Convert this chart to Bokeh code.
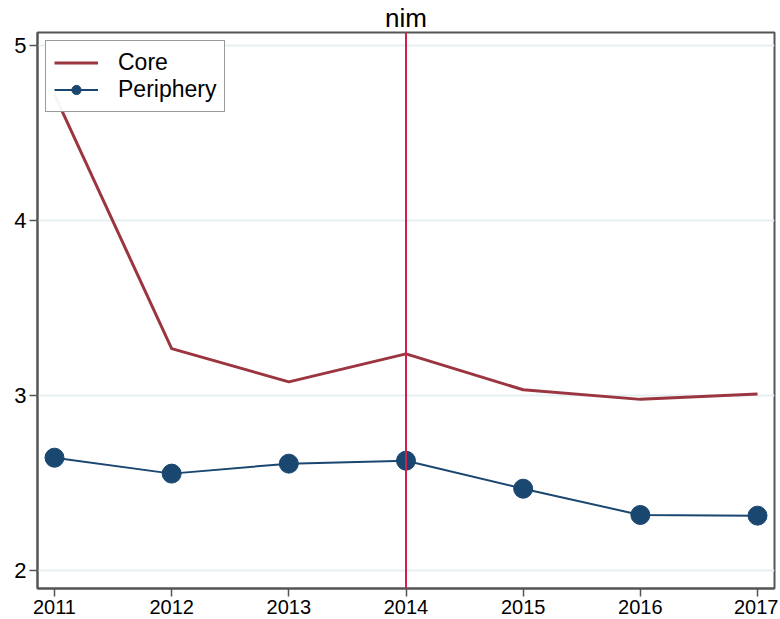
from bokeh.plotting import figure
from bokeh.models import Span, Legend, LegendItem, FixedTicker, Range1d
from bokeh.embed import file_html
from bokeh.resources import INLINE

years = [2011, 2012, 2013, 2014, 2015, 2016, 2017]
core = [4.72, 3.27, 3.08, 3.24, 3.035, 2.98, 3.01]
periphery = [2.647, 2.556, 2.613, 2.63, 2.47, 2.32, 2.316]
y_ticks = [2, 3, 4, 5]
event_year = 2014
title_text = "nim"

FONT = "Liberation Sans"

p = figure(width=778, height=619, output_backend="svg", toolbar_location=None,
           x_range=Range1d(2010.855, 2017.145), y_range=Range1d(1.9, 5.075),
           min_border_left=37, min_border_right=4, min_border_top=28, min_border_bottom=31)

p.title.text = title_text
p.title.align = "center"
p.title.text_font = FONT
p.title.text_font_size = "26px"
p.title.text_font_style = "normal"
p.title.text_color = "#000000"
p.title.standoff = 0

p.outline_line_color = "#555555"
p.outline_line_width = 2
p.xgrid.visible = False
p.ygrid.grid_line_color = "#e6eff2"
p.ygrid.grid_line_width = 2
p.ygrid.ticker = FixedTicker(ticks=y_ticks)

p.xaxis.ticker = FixedTicker(ticks=years)
p.yaxis.ticker = FixedTicker(ticks=y_ticks)
for ax in (p.xaxis[0], p.yaxis[0]):
    ax.axis_line_color = "#555555"
    ax.axis_line_width = 2
    ax.major_tick_line_color = "#555555"
    ax.major_tick_line_width = 1.5
    ax.major_tick_out = 8
    ax.major_tick_in = 0
    ax.minor_tick_line_color = None
    ax.major_label_text_font = FONT
    ax.major_label_text_color = "#000000"
    ax.major_label_standoff = 3
p.xaxis.major_label_text_font_size = "20px"
p.yaxis.major_label_text_font_size = "22px"
p.yaxis.major_label_orientation = 0.0

p.add_layout(Span(location=event_year, dimension="height", line_color="#d31f4c", line_width=2))

r_core = p.line(years, core, line_color="#9b3540", line_width=3)
r_per_line = p.line(years, periphery, line_color="#1a476f", line_width=2)
r_per_pts = p.scatter(years, periphery, size=19, marker="circle",
                      fill_color="#1a476f", line_color="#1a476f")

legend = Legend(items=[LegendItem(label="Core", renderers=[r_core]),
                       LegendItem(label="Periphery", renderers=[r_per_line, r_per_pts])],
                location="top_left")
legend.label_text_font = FONT
legend.label_text_font_size = "23px"
legend.label_text_color = "#000000"
legend.border_line_color = "#333333"
legend.border_line_width = 1.5
legend.glyph_width = 44
legend.glyph_height = 23
legend.label_height = 23
legend.spacing = 0
legend.padding = 8
legend.margin = 8
legend.label_standoff = 20
p.add_layout(legend)

open("out.html", "w").write(file_html(p, INLINE))
